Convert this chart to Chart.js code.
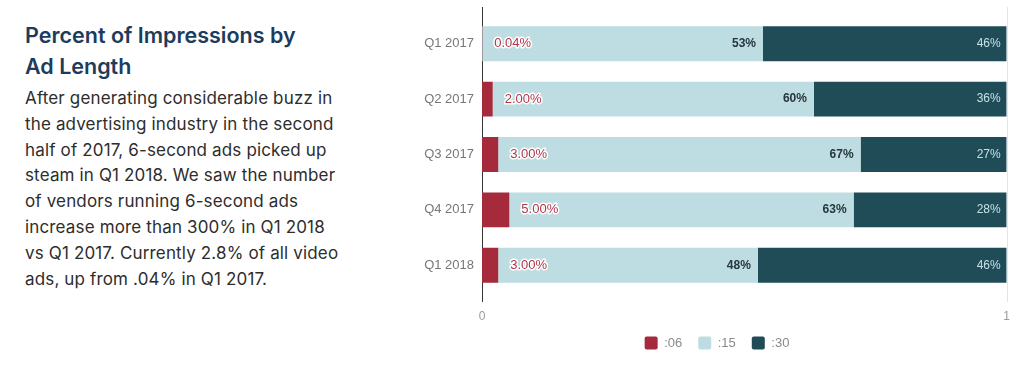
<!DOCTYPE html>
<html>
<head>
<meta charset="utf-8">
<script src="https://cdn.jsdelivr.net/npm/chart.js@4.4.0/dist/chart.umd.min.js"></script>
<style>
  body { margin: 0; width: 1026px; height: 371px; background: #fff; overflow: hidden; position: relative; font-family: Inter, "Noto Sans", sans-serif; }
  .intro { position: absolute; left: 25px; top: 20px; width: 370px; white-space: nowrap; }
  .intro h2 { margin: 0; font-size: 21.5px; font-weight: 600; line-height: 31px; color: #1d3b5c; }
  .intro p { margin: 4px 0 0; font-size: 17px; line-height: 25.8px; color: #2d2d2d; letter-spacing: 0.15px; }
  .chart-wrap { position: absolute; left: 424px; top: 0; width: 602px; height: 371px; }
</style>
</head>
<body>
<div class="intro">
  <h2>Percent of Impressions by<br>Ad Length</h2>
  <p>After generating considerable buzz in<br>the advertising industry in the second<br>half of 2017, 6-second ads picked up<br>steam in Q1 2018. We saw the number<br>of vendors running 6-second ads<br>increase more than 300% in Q1 2018<br>vs Q1 2017. Currently 2.8% of all video<br>ads, up from .04% in Q1 2017.</p>
</div>
<div class="chart-wrap"><canvas id="lengthChart"></canvas></div>
<script>
// Quarters and percent of impressions per ad length
const quarters = ['Q1 2017', 'Q2 2017', 'Q3 2017', 'Q4 2017', 'Q1 2018'];
const sec06 = [0.04, 2, 3, 5, 3];
const sec15 = [53, 60, 67, 63, 48];
const sec30 = [46, 36, 27, 28, 46];
const xTicks = [0, 1];

const colors = ['#a52a3b', '#bddde2', '#1f4c57'];

// bars are stacked to a share of the row total (axis runs 0..1)
const totals = quarters.map((q, i) => sec06[i] + sec15[i] + sec30[i]);
const share = arr => arr.map((v, i) => v / totals[i]);

// Draw value labels on each segment
const barLabels = {
    id: 'barLabels',
    afterDatasetsDraw(chart) {
        const ctx = chart.ctx;
        ctx.save();
        ctx.textBaseline = 'middle';
        chart.data.datasets.forEach((ds, i) => {
            const meta = chart.getDatasetMeta(i);
            meta.data.forEach((bar, j) => {
                const raw = ds.raw[j];
                if (i === 0) {
                    const text = raw.toFixed(2) + '%';
                    ctx.font = '13px Arial, "Liberation Sans", sans-serif';
                    ctx.textAlign = 'left';
                    ctx.lineWidth = 3;
                    ctx.strokeStyle = '#ffffff';
                    ctx.lineJoin = 'round';
                    ctx.strokeText(text, bar.x + 12, bar.y);
                    ctx.fillStyle = '#b0364a';
                    ctx.fillText(text, bar.x + 12, bar.y);
                } else if (i === 1) {
                    ctx.font = 'bold 12px Arial, "Liberation Sans", sans-serif';
                    ctx.textAlign = 'right';
                    ctx.fillStyle = '#26363d';
                    ctx.fillText(raw + '%', bar.x - 7, bar.y);
                } else {
                    ctx.font = '12px Arial, "Liberation Sans", sans-serif';
                    ctx.textAlign = 'right';
                    ctx.fillStyle = '#c6e1e6';
                    ctx.fillText(raw + '%', bar.x - 6, bar.y);
                }
            });
        });
        ctx.restore();
    }
};

// Axis line at 0 and light line at 1, a bit taller than the plot
const axisLines = {
    id: 'axisLines',
    beforeDatasetsDraw(chart) {
        const ctx = chart.ctx;
        const x = chart.scales.x;
        const area = chart.chartArea;
        ctx.save();
        ctx.lineWidth = 1;
        ctx.strokeStyle = '#e4e4e4';
        ctx.beginPath();
        ctx.moveTo(Math.round(x.getPixelForValue(1)) + 0.5, area.top - 9);
        ctx.lineTo(Math.round(x.getPixelForValue(1)) + 0.5, area.bottom + 9);
        ctx.stroke();
        ctx.strokeStyle = '#333333';
        ctx.beginPath();
        ctx.moveTo(Math.round(x.getPixelForValue(0)) + 0.5, area.top - 9);
        ctx.lineTo(Math.round(x.getPixelForValue(0)) + 0.5, area.bottom + 9);
        ctx.stroke();
        ctx.restore();
    }
};

const ctx = document.getElementById('lengthChart');
new Chart(ctx, {
    type: 'bar',
    data: {
        labels: quarters,
        datasets: [
            { label: ':06', data: share(sec06), raw: sec06, backgroundColor: colors[0] },
            { label: ':15', data: share(sec15), raw: sec15, backgroundColor: colors[1] },
            { label: ':30', data: share(sec30), raw: sec30, backgroundColor: colors[2] }
        ]
    },
    options: {
        indexAxis: 'y',
        responsive: true,
        maintainAspectRatio: false,
        animation: false,
        barPercentage: 0.63,
        categoryPercentage: 1,
        layout: { padding: { top: 16, right: 16, bottom: 11.5 } },
        plugins: {
            tooltip: { enabled: false },
            legend: {
                position: 'bottom',
                labels: {
                    boxWidth: 13,
                    boxHeight: 13,
                    padding: 16,
                    useBorderRadius: true,
                    borderRadius: 2,
                    color: '#8a8a8a',
                    font: { family: 'Arial, "Liberation Sans", sans-serif', size: 13 }
                }
            }
        },
        scales: {
            x: {
                stacked: true,
                min: 0,
                max: 1,
                afterBuildTicks: scale => { scale.ticks = xTicks.map(v => ({ value: v })); },
                afterFit: scale => { scale.height = 27.5; },
                grid: { display: false, drawTicks: false },
                border: { display: false },
                ticks: {
                    padding: 16,
                    color: '#9a9a9a',
                    font: { family: 'Arial, "Liberation Sans", sans-serif', size: 12 }
                }
            },
            y: {
                stacked: true,
                afterFit: scale => { scale.width = 58; },
                grid: { display: false, drawTicks: false },
                border: { display: false },
                ticks: {
                    padding: 8,
                    color: '#777777',
                    font: { family: 'Arial, "Liberation Sans", sans-serif', size: 13 }
                }
            }
        }
    },
    plugins: [axisLines, barLabels]
});
</script>
</body>
</html>
